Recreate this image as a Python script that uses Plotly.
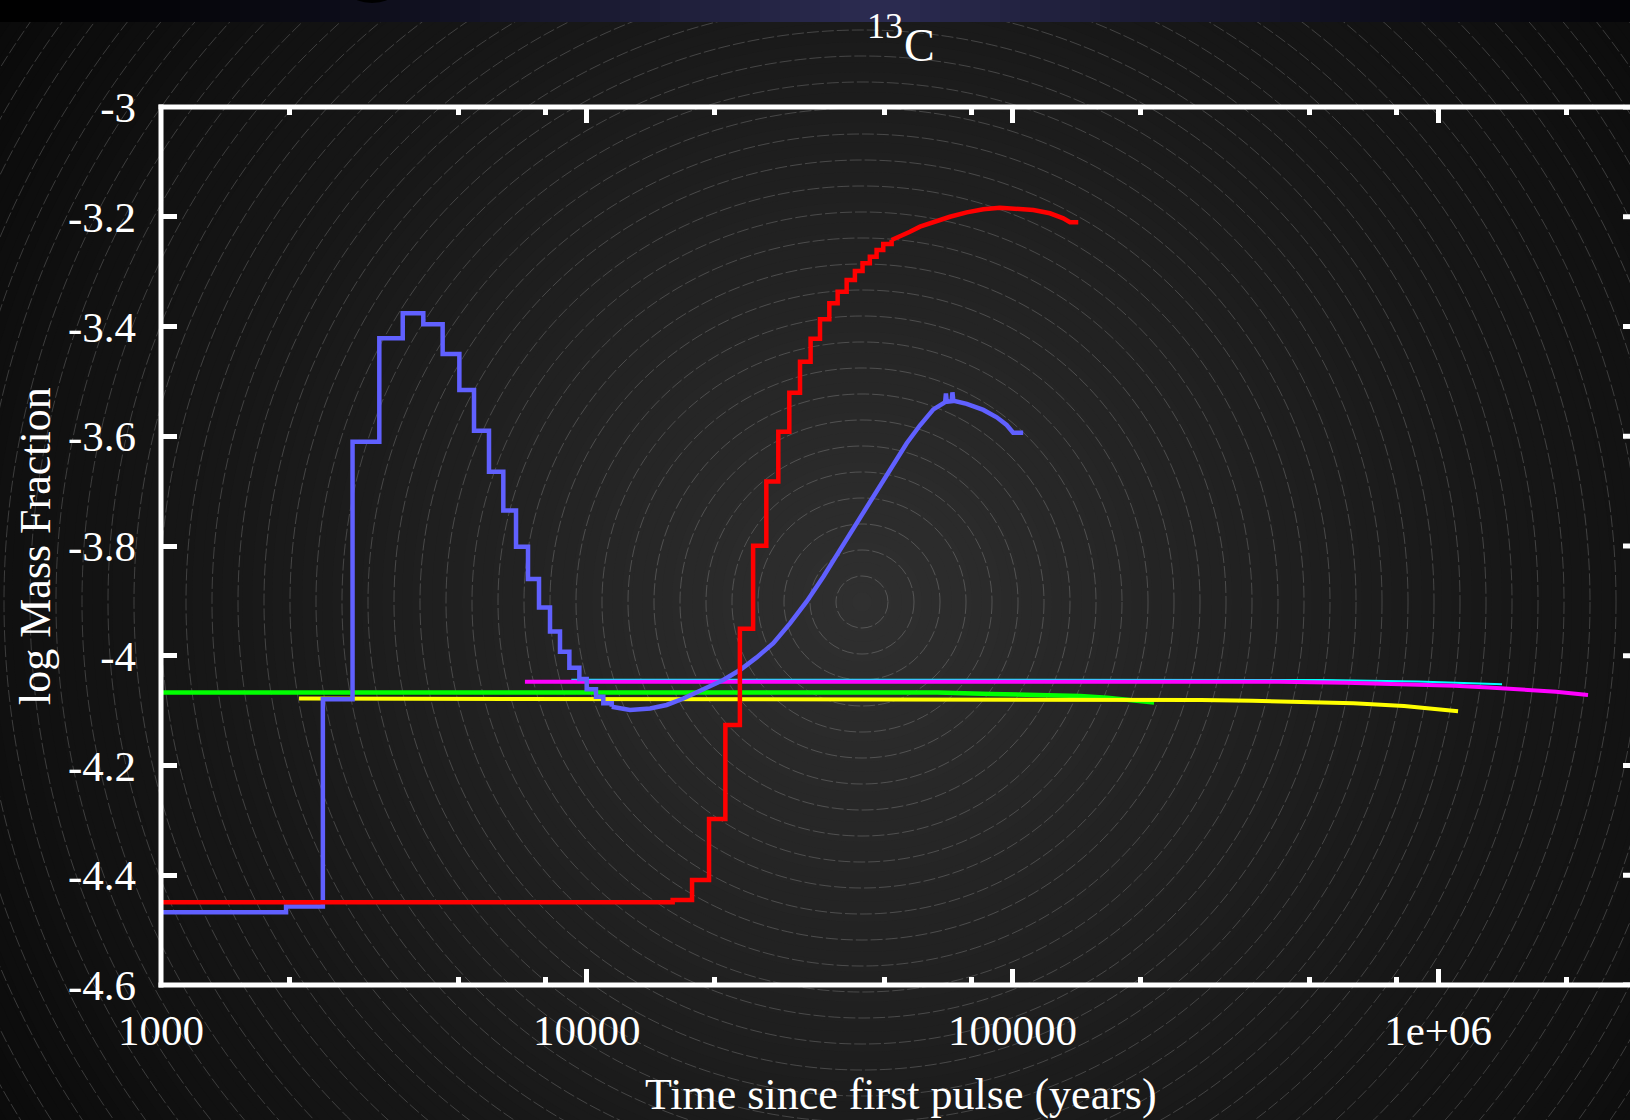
import plotly.graph_objects as go

# ---------------- data: time since first pulse (yr) vs log10 mass fraction of 13C ----------------
blue_step_t = [1000, 1967, 2400, 2818, 3257, 3697, 4132, 4588, 5022, 5436, 5895, 6370,
               6823, 7280, 7726, 8200, 8655, 9105, 9610, 10000, 10515, 10940, 11450]
blue_step_y = [-4.4675, -4.457, -4.0794, -3.610, -3.4215, -3.376, -3.396, -3.450, -3.5157,
               -3.5898, -3.6645, -3.7355, -3.8013, -3.860, -3.9123, -3.956, -3.9925,
               -4.0217, -4.0424, -4.061, -4.0746, -4.0867, -4.093]
blue_smooth_t = [11450, 12640, 14090, 15410, 16870, 19130, 20930, 22910, 25080, 27440,
                 30030, 32870, 35960, 39360, 43060, 47140, 51590, 56460, 60670, 65220,
                 69500, 69800, 70100, 72000, 72300, 72640, 78100, 85440, 91880, 96940,
                 100400, 106000]
blue_smooth_y = [-4.093, -4.099, -4.096, -4.0897, -4.078, -4.0595, -4.0442, -4.026, -4.003,
                 -3.977, -3.941, -3.901, -3.856, -3.807, -3.759, -3.710, -3.6615, -3.6128,
                 -3.580, -3.551, -3.538, -3.522, -3.537, -3.536, -3.520, -3.535, -3.541,
                 -3.552, -3.5655, -3.5795, -3.5935, -3.5935]

red_step_t = [1000, 15920, 17680, 19380, 21170, 22900, 24600, 26420, 28190, 29920, 31700,
              33570, 35320, 37150, 38860, 40800, 42660, 44460, 46250, 47970, 49730, 52030]
red_step_y = [-4.449, -4.445, -4.4087, -4.2975, -4.126, -3.951, -3.7995, -3.6825, -3.5917,
              -3.5206, -3.4641, -3.4222, -3.387, -3.3578, -3.3365, -3.3153, -3.2989,
              -3.2848, -3.2728, -3.2606, -3.2497, -3.2424]
red_smooth_t = [52030, 54460, 57460, 60670, 65220, 71330, 78100, 85440, 93500, 102400,
                112000, 122500, 131700, 136500, 142800]
red_smooth_y = [-3.2424, -3.2363, -3.2272, -3.218, -3.209, -3.200, -3.192, -3.1864,
                -3.1835, -3.1846, -3.1877, -3.1937, -3.2028, -3.210, -3.210]

green_t = [1000, 66640, 89100, 119000, 144300, 166900, 184000, 200000, 215200]
green_y = [-4.067, -4.067, -4.0695, -4.0716, -4.0735, -4.0765, -4.079, -4.082, -4.085]

yellow_t = [2110, 160600, 277300, 365500, 480800, 632300, 832000, 998400, 1114000]
yellow_y = [-4.078, -4.0794, -4.0806, -4.082, -4.0837, -4.0867, -4.0916, -4.097, -4.1013]

cyan_t = [9200, 537000, 895700, 1114000, 1413000]
cyan_y = [-4.0436, -4.044, -4.0467, -4.049, -4.052]

magenta_t = [7160, 422700, 609000, 895700, 1094000, 1313000, 1577000, 1892000, 2250000]
magenta_y = [-4.0473, -4.0473, -4.0493, -4.0517, -4.0547, -4.0577, -4.0614, -4.0656, -4.0717]

x_major = [1e3, 1e4, 1e5, 1e6]
x_major_text = ["1000", "10000", "100000", "1e+06"]
x_minor = [m * 10 ** e for e in (3, 4, 5, 6) for m in (2, 5, 8)]
y_ticks = [-3.0, -3.2, -3.4, -3.6, -3.8, -4.0, -4.2, -4.4, -4.6]
y_text = ["-3", "-3.2", "-3.4", "-3.6", "-3.8", "-4", "-4.2", "-4.4", "-4.6"]

# ---------------- page geometry (pixels) ----------------
FIG_W, FIG_H = 1630, 1120
L, R, T, B = 161, 1630, 107, 985
W, H = R - L, B - T
FONT = "Liberation Serif"


def px(xp):
    return (xp - L) / W


def py(yp):
    return (B - yp) / H


shapes = []

# radial backdrop: stacked filled discs, darker outward
CX, CY = 862, 602
r = 1080
while r > 0:
    f = max(0.0, 1 - r / 1060)
    c = int(round(10 + 38 * f ** 1.1))
    shapes.append(dict(type="circle", xref="paper", yref="paper", xsizemode="pixel",
                       ysizemode="pixel", xanchor=px(CX), yanchor=py(CY),
                       x0=-r, x1=r, y0=-r, y1=r, layer="below",
                       fillcolor=f"rgb({c},{c},{c})", line=dict(width=0)))
    r -= 10

# dashed concentric rings
for n in range(1, 42):
    rr = 26 * n
    shapes.append(dict(type="circle", xref="paper", yref="paper", xsizemode="pixel",
                       ysizemode="pixel", xanchor=px(CX), yanchor=py(CY),
                       x0=-rr, x1=rr, y0=-rr, y1=rr, layer="below",
                       line=dict(color="rgba(255,255,255,0.19)", width=1, dash="12px,3px")))

# navy banner strip along the top edge
for x in range(0, FIG_W, 20):
    d = abs(x + 10 - 880) / 900
    f = max(0.0, 1 - d) ** 1.3
    shapes.append(dict(type="rect", xref="paper", yref="paper",
                       x0=px(x), x1=px(x + 21), y0=py(22), y1=py(-1), layer="below",
                       fillcolor=f"rgb({int(44*f)},{int(44*f)},{int(82*f)})", line=dict(width=0)))
shapes.append(dict(type="circle", xref="paper", yref="paper", x0=px(352), x1=px(392),
                   y0=py(3), y1=py(-14), layer="below", fillcolor="black", line=dict(width=0)))

# plot frame (left, top, bottom)
shapes.append(dict(type="line", xref="paper", yref="paper", x0=0, x1=0,
                   y0=py(987.5), y1=py(104.5), line=dict(color="white", width=5)))
shapes.append(dict(type="line", xref="paper", yref="paper", x0=px(158.5), x1=1.01,
                   y0=1, y1=1, line=dict(color="white", width=5)))
shapes.append(dict(type="line", xref="paper", yref="paper", x0=px(158.5), x1=1.01,
                   y0=0, y1=0, line=dict(color="white", width=5)))
# right-hand y ticks peeking in at the page edge
for yv in y_ticks:
    shapes.append(dict(type="line", xref="paper", yref="y", xsizemode="pixel", xanchor=1,
                       x0=-7, x1=0, y0=yv, y1=yv, line=dict(color="white", width=5)))

fig = go.Figure()


def add(t, y, color, width, shape="linear"):
    fig.add_trace(go.Scatter(x=t, y=y, mode="lines", line=dict(color=color, width=width, shape=shape),
                             showlegend=False, hoverinfo="skip"))


add(green_t, green_y, "#00ff00", 4.5)
add(yellow_t, yellow_y, "#ffff00", 4)
add(cyan_t, cyan_y, "#00ffff", 2)
add(magenta_t, magenta_y, "#ff00ff", 4)
add(blue_step_t, blue_step_y, "#6060ff", 4.5, "hv")
add(blue_smooth_t, blue_smooth_y, "#6060ff", 4.5)
add(red_step_t, red_step_y, "#ff0000", 4.5, "hv")
add(red_smooth_t, red_smooth_y, "#ff0000", 4.5)

tickfont = dict(family=FONT, size=43, color="white")
annotations = [
    dict(text="Time since first pulse (years)", xref="paper", yref="paper",
         x=px(901), y=py(1094), xanchor="center", yanchor="middle", showarrow=False,
         font=dict(family=FONT, size=44, color="white")),
    dict(text="log Mass Fraction", xref="paper", yref="paper", textangle=-90,
         x=px(35), y=py(546), xanchor="center", yanchor="middle", showarrow=False,
         font=dict(family=FONT, size=44, color="white")),
    dict(text="13", xref="paper", yref="paper", x=px(885), y=py(26),
         xanchor="center", yanchor="middle", showarrow=False,
         font=dict(family=FONT, size=36, color="white")),
    dict(text="C", xref="paper", yref="paper", x=px(919), y=py(46),
         xanchor="center", yanchor="middle", showarrow=False,
         font=dict(family=FONT, size=46, color="white")),
]

fig.update_layout(
    width=FIG_W, height=FIG_H,
    margin=dict(l=L, r=FIG_W - R, t=T, b=FIG_H - B, pad=0),
    paper_bgcolor="rgb(12,12,12)", plot_bgcolor="rgba(0,0,0,0)",
    shapes=shapes, annotations=annotations,
    xaxis=dict(type="log", range=[3, 3 + W / 425.7], tickmode="array", tickvals=x_major,
               ticktext=x_major_text, ticks="inside", ticklen=16, tickwidth=5,
               tickcolor="white", mirror="ticks", showline=False, showgrid=False,
               zeroline=False, tickfont=tickfont, ticklabelstandoff=16,
               minor=dict(tickmode="array", tickvals=x_minor, ticks="inside", ticklen=8,
                          tickwidth=5, tickcolor="white", showgrid=False)),
    yaxis=dict(range=[-4.6, -3.0], tickmode="array", tickvals=y_ticks, ticktext=y_text,
               ticks="inside", ticklen=16, tickwidth=5, tickcolor="white", showline=False,
               showgrid=False, zeroline=False, tickfont=tickfont, ticklabelstandoff=24),
)

fig.write_html("out.html")
